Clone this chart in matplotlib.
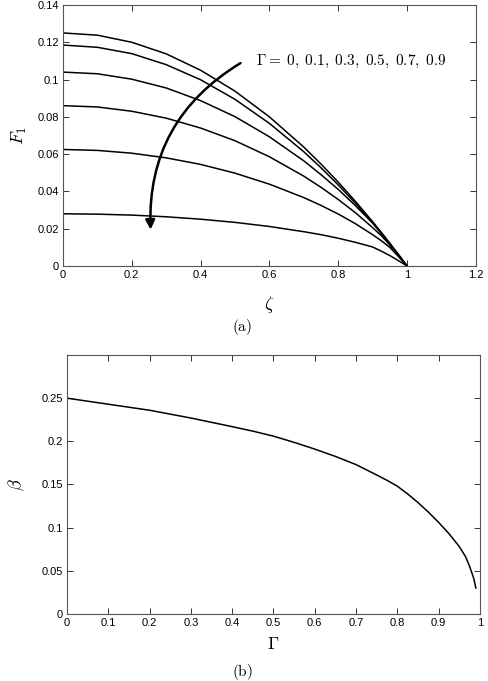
import matplotlib
matplotlib.use("Agg")
import matplotlib.pyplot as plt
from matplotlib.patches import FancyArrowPatch

plt.rcParams['font.family'] = ['Liberation Sans', 'DejaVu Sans']
plt.rcParams['mathtext.fontset'] = 'cm'

# (a) F1 against zeta, one curve per Gamma
zeta = [0, 0.1, 0.2, 0.3, 0.4, 0.5, 0.6, 0.7, 0.75, 0.8, 0.85, 0.9, 0.925, 0.95, 0.975, 1.0]
F1_g00 = [0.1250, 0.1238, 0.1200, 0.1138, 0.1050, 0.0938, 0.0800, 0.0638, 0.0547, 0.0450,
          0.0347, 0.0238, 0.0181, 0.0122, 0.0062, 0]
F1_g01 = [0.1185, 0.1173, 0.1139, 0.1080, 0.0999, 0.0894, 0.0765, 0.0613, 0.0527, 0.0435,
          0.0337, 0.0233, 0.0178, 0.0120, 0.0061, 0]
F1_g03 = [0.1040, 0.1031, 0.1002, 0.0955, 0.0887, 0.0801, 0.0693, 0.0564, 0.0490, 0.0411,
          0.0324, 0.0230, 0.0175, 0.0117, 0.0060, 0]
F1_g05 = [0.0860, 0.0853, 0.0830, 0.0793, 0.0740, 0.0672, 0.0586, 0.0482, 0.0422, 0.0357,
          0.0286, 0.0206, 0.0163, 0.0113, 0.0058, 0]
F1_g07 = [0.0625, 0.0620, 0.0605, 0.0580, 0.0545, 0.0498, 0.0439, 0.0367, 0.0325, 0.0279,
          0.0227, 0.0168, 0.0136, 0.0100, 0.0051, 0]
F1_g09 = [0.0280, 0.0278, 0.0273, 0.0264, 0.0251, 0.0234, 0.0212, 0.0184, 0.0168, 0.0149,
          0.0127, 0.0102, 0.0080, 0.0056, 0.0029, 0]
curves = [F1_g00, F1_g01, F1_g03, F1_g05, F1_g07, F1_g09]

# (b) beta against Gamma
gamma = [0, 0.1, 0.2, 0.3, 0.4, 0.45, 0.5, 0.55, 0.6, 0.65, 0.7, 0.75, 0.775, 0.8, 0.825,
         0.85, 0.875, 0.9, 0.925, 0.95, 0.965, 0.975, 0.985, 0.99]
beta = [0.250, 0.243, 0.236, 0.227, 0.217, 0.2118, 0.206, 0.1988, 0.191, 0.1825, 0.173,
        0.161, 0.1548, 0.148, 0.139, 0.129, 0.118, 0.106, 0.093, 0.078, 0.0665, 0.055,
        0.041, 0.030]

fig = plt.figure(figsize=(4.88, 6.81), dpi=100)
ax1 = fig.add_axes([0.129, 0.6094, 0.846, 0.3833])
ax2 = fig.add_axes([0.1373, 0.0984, 0.8463, 0.3803])

for ax in (ax1, ax2):
    ax.tick_params(direction='in', top=True, right=True, length=4,
                   width=0.7, labelsize=8, pad=3, colors='#333333',
                   labelcolor='black')
    for s in ax.spines.values():
        s.set_linewidth(0.8)
        s.set_color('#555555')

for c in curves:
    ax1.plot(zeta, c, color='black', lw=1.1)
ax1.set_xlim(0, 1.2)
ax1.set_ylim(0, 0.14)
ax1.set_xticks([0, 0.2, 0.4, 0.6, 0.8, 1, 1.2])
ax1.set_xticklabels(['0', '0.2', '0.4', '0.6', '0.8', '1', '1.2'])
ax1.set_yticks([0, 0.02, 0.04, 0.06, 0.08, 0.1, 0.12, 0.14])
ax1.set_yticklabels(['0', '0.02', '0.04', '0.06', '0.08', '0.1', '0.12', '0.14'])
ax1.set_xlabel(r'$\zeta$', fontsize=13, labelpad=10)
ax1.set_ylabel(r'$F_1$', fontsize=13, labelpad=6)

arrow = FancyArrowPatch((0.523, 0.1096), (0.255, 0.0180),
                        connectionstyle='arc3,rad=0.3', arrowstyle='-|>',
                        mutation_scale=14, lw=1.8, color='black')
ax1.add_patch(arrow)
ax1.text(0.56, 0.1096, r'$\Gamma=\;0,\;0.1,\;0.3,\;0.5,\;0.7,\;0.9$',
         fontsize=11, va='center', ha='left')

ax2.plot(gamma, beta, color='black', lw=1.1)
ax2.set_xlim(0, 1)
ax2.set_ylim(0, 0.3)
ax2.set_xticks([0, 0.1, 0.2, 0.3, 0.4, 0.5, 0.6, 0.7, 0.8, 0.9, 1])
ax2.set_xticklabels(['0', '0.1', '0.2', '0.3', '0.4', '0.5', '0.6', '0.7', '0.8', '0.9', '1'])
ax2.set_yticks([0, 0.05, 0.1, 0.15, 0.2, 0.25])
ax2.set_yticklabels(['0', '0.05', '0.1', '0.15', '0.2', '0.25'])
ax2.set_xlabel(r'$\Gamma$', fontsize=13, labelpad=6)
ax2.set_ylabel(r'$\beta$', fontsize=13, labelpad=10)

fig.text(0.496, 1 - 327 / 681, r'$\mathrm{(a)}$', fontsize=11, ha='center', va='center')
fig.text(0.496, 1 - 672 / 681, r'$\mathrm{(b)}$', fontsize=11, ha='center', va='center')

fig.savefig('out.png', dpi=100)
